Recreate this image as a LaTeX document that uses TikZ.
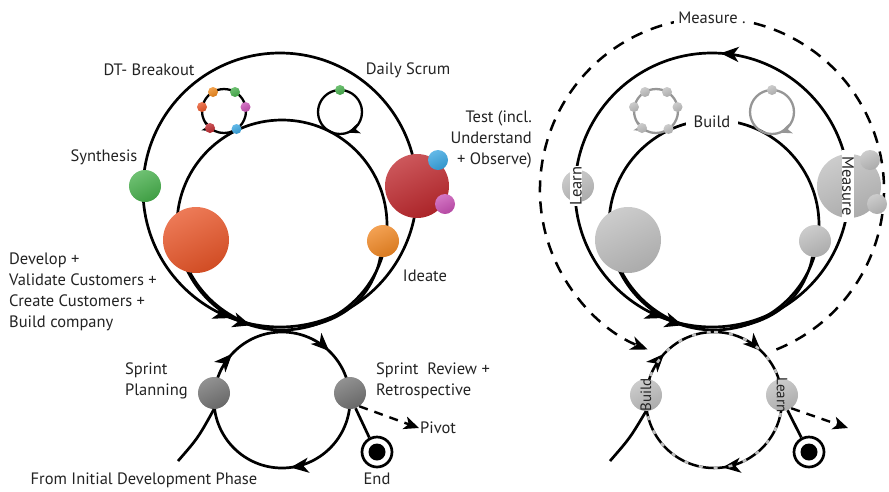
\documentclass[tikz,border=0pt]{standalone}
\usepackage{fontspec}
\setmainfont{PT Sans}
\usetikzlibrary{arrows.meta,decorations.markings}
\definecolor{cgreen}{RGB}{70,175,75}
\definecolor{corange}{RGB}{232,85,40}
\definecolor{cred}{RGB}{190,40,45}
\definecolor{cblue}{RGB}{55,165,225}
\definecolor{cmag}{RGB}{200,80,180}
\definecolor{cideate}{RGB}{240,135,35}
\definecolor{cgrey}{RGB}{115,115,115}
\definecolor{clight}{RGB}{190,190,190}
\definecolor{cloop}{RGB}{150,150,150}
\definecolor{ctext}{RGB}{35,35,35}
\newcommand\arrhead{\arrow{Stealth[length=18pt,width=15pt,inset=5pt]}}
\newcommand\smallhead{\arrow{Stealth[length=12pt,width=10pt,inset=3pt]}}
\begin{document}
\begin{tikzpicture}[x=1pt,y=-1pt,
  line/.style={line width=2.7pt,black},
  thinline/.style={line width=2.3pt,black},
  loopline/.style={line width=2.3pt},
  ball/.style={circle,inner sep=0pt,minimum size=#1},
  shadeball/.style={shading=axis,top color=#1!78!white,bottom color=#1!90!black,shading angle=25},
  dot/.style={circle,inner sep=0pt,minimum size=10pt},
  lbl/.style={font=\fontsize{16.5}{21}\selectfont,text=ctext,inner sep=1pt},
  dashline/.style={line width=2.5pt,dash pattern=on 12pt off 9pt},
  endouter/.style={circle,draw,line width=2.7pt,minimum size=30pt,fill=white,inner sep=0pt},
  enddot/.style={circle,fill=black,minimum size=17pt,inner sep=0pt}]
\useasboundingbox (0,0) rectangle (889,491);

% ================= LEFT DIAGRAM =================
\draw[line,postaction={decorate},decoration={markings,mark=at position 0.942 with {\arrhead}}]
  (280,190) ++(90:137) arc[start angle=90,end angle=-270,radius=137];
\draw[line,postaction={decorate},decoration={markings,mark=at position 0.952 with {\arrhead}}]
  (282,225) ++(90:105) arc[start angle=90,end angle=-270,radius=105];
\draw[line,postaction={decorate},decoration={markings,
   mark=at position 0.122 with {\arrhead},
   mark=at position 0.48 with {\arrhead},
   mark=at position 0.869 with {\arrhead}}]
  (282,400) ++(270:68) arc[start angle=270,end angle=630,radius=68];
% small loops
\draw[loopline,postaction={decorate},decoration={markings,mark=at position 0.93 with {\smallhead}}]
  (224,111) ++(90:22) arc[start angle=450,end angle=90,radius=22];
\draw[loopline,postaction={decorate},decoration={markings,mark=at position 0.944 with {\smallhead}}]
  (340,112) ++(90:22) arc[start angle=90,end angle=450,radius=22];
\node[dot,shadeball=corange!70!yellow] (d1) at (213,92) {};
\node[dot,shadeball=cgreen] (d2) at (235,92) {};
\node[dot,shadeball=cmag] (d3) at (245.5,107) {};
\node[dot,shadeball=cblue] (d4) at (236.5,129) {};
\node[dot,shadeball=cred] (d5) at (210,128) {};
\node[dot,shadeball=corange] (d6) at (202,107) {};
\node[dot,shadeball=cgreen] (d7) at (340,90) {};

% balls
\node[ball=32pt,shadeball=cgreen] (synth) at (145,186) {};
\node[ball=66pt,shadeball=corange] (dev) at (196,240) {};
\node[ball=64pt,shadeball=cred] (test) at (417,186) {};
\node[ball=20pt,shadeball=cblue] (tb) at (438,160) {};
\node[ball=20pt,shadeball=cmag] (tm) at (445,204) {};
\node[ball=32pt,shadeball=cideate] (ide) at (383,241) {};
\draw[thinline] (dev.-100) .. controls (205,300) and (232,322) .. (268,329);
\draw[thinline] (ide.-100) .. controls (372,300) and (340,323) .. (298,328);

\node[ball=32pt,shadeball=cgrey] (plan) at (214,393) {};
\node[ball=32pt,shadeball=cgrey] (rev) at (350,393) {};
\coordinate (from) at (178,461);
\draw[line] (from) .. controls (198,438) .. (plan.south);
\node[endouter] (end) at (377,452) {};
\node[enddot] (enddot) at (end) {};
\draw[line] (rev.-70) -- (end.118);
\node[lbl,anchor=west] (pivot) at (419,428) {Pivot};
\draw[dashline,line width=2.4pt,dash pattern=on 9pt off 7pt,-{Stealth[length=15pt,width=13pt,inset=4pt]}] (rev.-55) -- (pivot.west);

% labels
\node[lbl] (ldt) at (149,70) {DT- Breakout};
\node[lbl] (lds) at (408,70) {Daily Scrum};
\node[lbl] (lsyn) at (104,157) {Synthesis};
\node[lbl,align=right,anchor=east] (ltest) at (533,139) {Test (incl.\\Understand\\+ Observe)};
\node[lbl,align=left,anchor=west] (ldev) at (8,292) {Develop +\\Validate Customers +\\Create Customers +\\Build company};
\node[lbl] (lide) at (425,276) {Ideate};
\node[lbl,align=left,anchor=west] (lplan) at (124,381) {Sprint\\Planning};
\node[lbl,align=left,anchor=west] (lrev) at (375,381) {Sprint\ \ Review +\\Retrospective};
\node[lbl] (lend) at (377,479) {End};
\node[lbl] (lfrom) at (144,480) {From Initial Development Phase};

% ================= RIGHT DIAGRAM =================
\draw[dashline,-{Stealth[length=17pt,width=14pt,inset=5pt]}]
  (712,190) ++(68:172) arc[start angle=68,end angle=-248,radius=172];
\node[lbl,fill=white,inner xsep=4pt] (mtop) at (712,18) {Measure .};
\draw[line,postaction={decorate},decoration={markings,
   mark=at position 0.49 with {\arrhead},
   mark=at position 0.942 with {\arrhead}}]
  (712,190) ++(90:137) arc[start angle=90,end angle=-270,radius=137];
\draw[line,postaction={decorate},decoration={markings,mark=at position 0.952 with {\arrhead}}]
  (714,225) ++(90:105) arc[start angle=90,end angle=-270,radius=105];
\node[lbl,fill=white,inner xsep=8pt,inner ysep=4pt] (rbuild) at (712,122) {Build};
\draw[line,line width=2.5pt,postaction={decorate},decoration={markings,
   mark=at position 0.122 with {\arrhead},
   mark=at position 0.48 with {\arrhead},
   mark=at position 0.869 with {\arrhead}}]
  (714,400) ++(270:68) arc[start angle=270,end angle=630,radius=68];
\draw[line width=2.5pt,clight,dash pattern=on 4pt off 11pt]
  (714,400) ++(270:68) arc[start angle=270,end angle=630,radius=68];
% grey loops
\draw[loopline,cloop,postaction={decorate},decoration={markings,mark=at position 0.93 with {\smallhead}}]
  (656,111) ++(90:22) arc[start angle=450,end angle=90,radius=22];
\draw[loopline,cloop,postaction={decorate},decoration={markings,mark=at position 0.944 with {\smallhead}}]
  (772,112) ++(90:22) arc[start angle=90,end angle=450,radius=22];
\node[dot,shadeball=clight] (g1) at (645,92) {};
\node[dot,shadeball=clight] (g2) at (667,92) {};
\node[dot,shadeball=clight] (g3) at (677.5,107) {};
\node[dot,shadeball=clight] (g4) at (668.5,129) {};
\node[dot,shadeball=clight] (g5) at (642,128) {};
\node[dot,shadeball=clight] (g6) at (634,107) {};
\node[dot,shadeball=clight] (g7) at (772,90) {};

% grey balls
\node[ball=32pt,shadeball=clight] (rsyn) at (578,186) {};
\node[lbl,fill=white,rotate=90,minimum width=36pt,inner ysep=0pt] (rlearn) at (576,186) {Learn};
\node[ball=66pt,shadeball=clight] (rdev) at (628,240) {};
\node[ball=64pt,shadeball=clight] (rtest) at (849,186) {};
\node[ball=20pt,shadeball=clight] (rtb) at (870,160) {};
\node[ball=20pt,shadeball=clight] (rtm) at (877,204) {};
\node[lbl,fill=white,rotate=-90,minimum width=72pt,inner ysep=0pt] (rmeas) at (848,186) {Measure};
\node[ball=32pt,shadeball=clight] (ride) at (815,241) {};
\draw[thinline] (rdev.-100) .. controls (637,300) and (664,322) .. (700,329);
\draw[thinline] (ride.-100) .. controls (804,300) and (772,323) .. (730,328);

\node[ball=32pt,shadeball=clight] (rplan) at (646,395) {};
\node[lbl,rotate=90,font=\fontsize{15}{18}\selectfont] at (rplan) {Build};
\node[ball=32pt,shadeball=clight] (rrev) at (782,395) {};
\node[lbl,rotate=-90,font=\fontsize{15}{18}\selectfont] at (rrev) {Learn};
\coordinate (rfrom) at (610,461);
\draw[line] (rfrom) .. controls (630,438) .. (rplan.south);
\node[endouter] (rend) at (809,452) {};
\node[enddot] (renddot) at (rend) {};
\draw[line] (rrev.-70) -- (rend.118);
\coordinate (rpiv) at (848,428);
\draw[dashline,line width=2.4pt,dash pattern=on 9pt off 7pt,-{Stealth[length=15pt,width=13pt,inset=4pt]}] (rrev.-55) -- (rpiv);
\end{tikzpicture}
\end{document}
